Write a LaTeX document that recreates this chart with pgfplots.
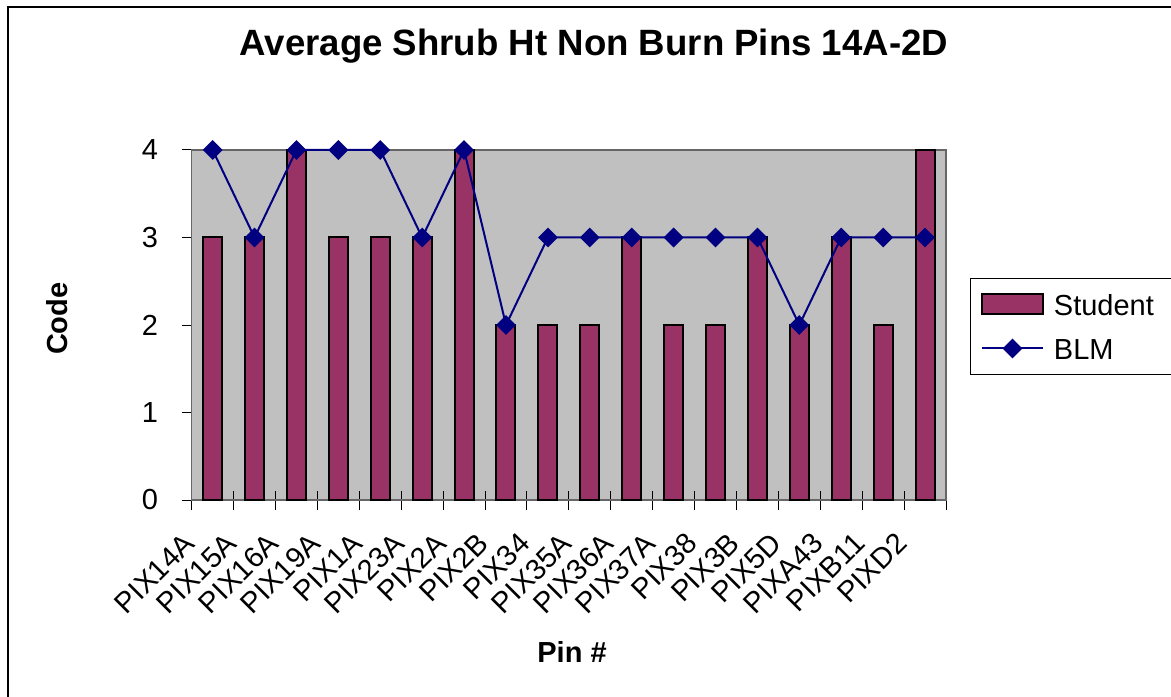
\documentclass[border=0pt]{standalone}
\usepackage{fontspec}
\setmainfont{Liberation Sans}
\usepackage{pgfplots}
\usepackage{pgfplotstable}
\pgfplotsset{compat=1.18}

\definecolor{barfill}{HTML}{993366}
\definecolor{plotbg}{HTML}{C0C0C0}
\definecolor{blmblue}{HTML}{000080}

% idx = category position, student = bar, blm = line
\pgfplotstableread{
idx student blm
1  3 4
2  3 3
3  4 4
4  3 4
5  3 4
6  3 3
7  4 4
8  2 2
9  2 3
10 2 3
11 3 3
12 2 3
13 2 3
14 3 3
15 2 2
16 3 3
17 2 3
18 4 3
}\pintable

\newcommand{\lblfont}{\fontsize{14.5}{17}\selectfont}

\pgfplotsset{
    barlegend/.style={legend image code/.code={\draw[##1] (0pt,-5pt) rectangle (30.5pt,5pt);}},
    linelegend/.style={legend image code/.code={\draw[mark repeat=2, mark phase=2, ##1]
        plot coordinates {(0pt,0pt) (15.25pt,0pt) (30.5pt,0pt)};}},
}

\begin{document}
\begin{tikzpicture}
\path[use as bounding box] (-95.85pt,-98pt) rectangle (489.65pt,250pt);
\draw[line width=1pt] (-91.85pt,-110pt) -- (-91.85pt,246.5pt) -- (500pt,246.5pt);
\begin{axis}[
    at={(0pt,0pt)}, anchor=south west,
    scale only axis,
    width=377.15pt, height=175pt,
    xmin=0.5, xmax=18.5,
    ymin=0, ymax=4,
    clip=false,
    axis background/.style={fill=plotbg},
    axis line style={draw=black!60, line width=0.8pt},
    xtick={0.5,1.5,...,18.5},
    x tick label as interval,
    xticklabels={PIX14A,PIX15A,PIX16A,PIX19A,PIX1A,PIX23A,PIX2A,PIX2B,PIX34,PIX35A,PIX36A,PIX37A,PIX38,PIX3B,PIX5D,PIXA43,PIXB11,PIXD2},
    ytick={0,1,2,3,4},
    xtick pos=lower, ytick pos=left,
    xtick align=center,
    ytick align=outside,
    xtick style={/pgfplots/major tick length=9.5pt, black, line width=0.5pt},
    ytick style={/pgfplots/major tick length=5pt, black, line width=0.5pt},
    /pgf/number format/assume math mode=true,
    xticklabel style={font=\lblfont, inner sep=0pt, xshift=-8pt, yshift=-20.5pt, rotate=45, anchor=base east},
    yticklabel style={font=\lblfont, inner sep=0pt, anchor=east, xshift=-12.35pt},
    title={Average Shrub Ht Non Burn Pins 14A-2D},
    title style={at={(axis description cs:0.5333,1.2371)}, anchor=base, inner sep=0pt,
        font=\bfseries\fontsize{18.3}{22}\selectfont},
    xlabel={Pin \#},
    xlabel style={at={(axis description cs:0.5042,-0.4629)}, anchor=base, inner sep=0pt,
        font=\bfseries\lblfont},
    ylabel={Code},
    ylabel style={at={(axis description cs:-0.164,0.518)}, anchor=base, inner sep=0pt,
        font=\bfseries\lblfont},
    legend cell align=left,
    legend style={at={(axis description cs:1.0324,0.6343)}, anchor=north west,
        draw=black, line width=0.5pt, fill=white, font=\lblfont,
        inner xsep=5pt, inner ysep=2pt, row sep=0pt,
        nodes={text height=11pt, text depth=0pt, inner ysep=5.5pt, inner xsep=5pt}},
]
\addplot[ybar, bar width=9.5pt, fill=barfill, draw=black, line width=1pt, barlegend]
    table[x=idx, y=student] {\pintable};
\addlegendentry{Student}
\addplot[blmblue, line width=1pt, mark=square*, mark size=3pt,
    mark options={rotate=45, fill=blmblue, draw=blmblue, solid}, linelegend]
    table[x=idx, y=blm] {\pintable};
\addlegendentry{BLM}
\end{axis}
\end{tikzpicture}
\end{document}
